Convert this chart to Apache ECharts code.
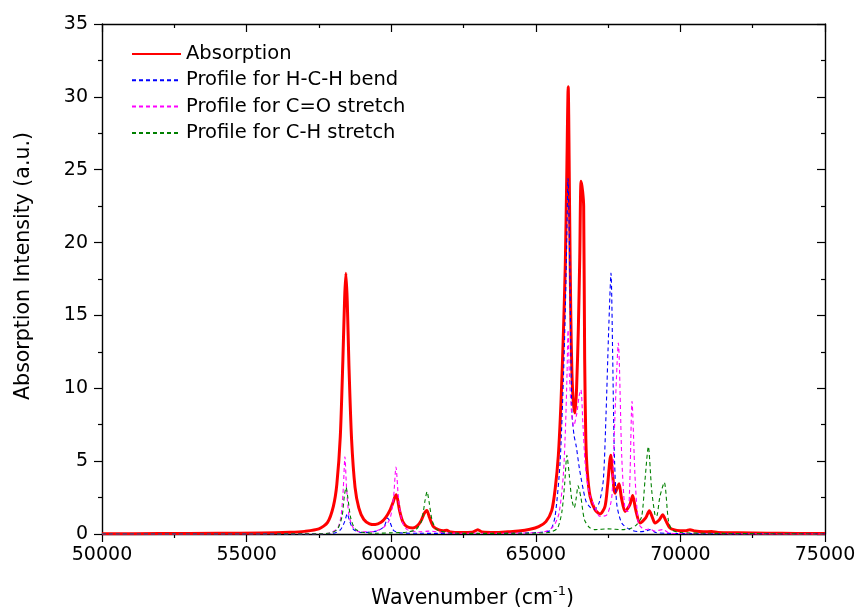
<!DOCTYPE html>
<html>
<head>
<meta charset="utf-8">
<script src="https://cdn.jsdelivr.net/npm/echarts@6/dist/echarts.min.js"></script>
<style>html,body{margin:0;padding:0;background:#fff}#c{width:858px;height:612px}</style>
</head>
<body>
<div id="c"></div>
<script>
const seriesNames = ['Absorption', 'Profile for H-C-H bend', 'Profile for C=O stretch', 'Profile for C-H stretch'];
const xTicks = [50000, 55000, 60000, 65000, 70000, 75000];
const yTicks = [0, 5, 10, 15, 20, 25, 30, 35];

const absX = [50000,52000,54000,55500,56500,57000,57500,57800,58000,58120,58240,58330,58390,58433,58480,58540,58630,58750,58880,59050,59250,59450,59650,59800,59950,60070,60130,60171,60220,60290,60400,60550,60750,60900,61030,61140,61232,61320,61460,61650,61800,61923,62050,62400,62800,62995,63150,63600,64040,64400,64800,65100,65350,65550,65670,65780,65870,65950,66020,66070,66120,66170,66210,66250,66300,66357,66410,66470,66520,66565,66620,66655,66690,66730,66780,66876,67049,67221,67394,67480,67591,67660,67740,67877,67960,68085,68250,68351,68450,68604,68800,68925,69020,69122,69280,69388,69500,69641,69800,69986,70200,70330,70500,70800,71080,71300,72000,73000,74000,75000];
const absY = [0.02,0.03,0.05,0.07,0.12,0.18,0.35,0.8,1.9,3.4,6.7,12,16.2,17.9,16,11.5,6.5,3.2,1.8,1.0,0.7,0.65,0.8,1.1,1.6,2.2,2.55,2.7,2.4,1.6,0.85,0.5,0.42,0.55,0.9,1.4,1.62,1.15,0.5,0.28,0.22,0.25,0.14,0.1,0.12,0.3,0.13,0.1,0.15,0.2,0.32,0.5,0.85,1.6,3.1,5.4,9,13.5,18.5,24.5,30.7,22,15,11,9,8.3,10,14,19,24.2,23.5,22.5,12,6.5,4.3,2.6,1.67,1.37,1.9,3.3,5.4,4.0,2.8,3.45,2.5,1.55,2.0,2.65,1.7,0.75,1.1,1.6,1.2,0.75,1.0,1.32,0.9,0.41,0.28,0.23,0.22,0.3,0.2,0.15,0.17,0.1,0.08,0.05,0.04,0.03];

const bendX = [50000,57000,58000,58250,58400,58480,58560,58700,59000,59500,59750,59880,59960,60080,60300,61000,63000,64500,65200,65500,65666,65839,65953,66010,66060,66115,66170,66210,66250,66320,66400,66507,66645,66745,66900,67040,67200,67335,67430,67520,67600,67660,67710,67797,67971,68258,68600,68800,68950,69150,69500,70000,72000,75000];
const bendY = [0,0.01,0.05,0.3,0.9,1.4,0.9,0.3,0.1,0.2,0.5,1.1,0.8,0.25,0.08,0.05,0.03,0.06,0.12,0.25,1.2,4.9,10.6,14.5,19,24.4,19,13,8.3,6.8,6.0,4.5,3.0,2.2,1.8,1.7,2.2,3.7,8.3,14,17.9,12,6,2.1,0.75,0.3,0.15,0.2,0.3,0.1,0.05,0.03,0.01,0];

const coX = [50000,57500,57900,58150,58270,58345,58400,58455,58540,58680,58900,59300,59700,59950,60080,60165,60250,60370,60550,61000,61300,62000,64000,65300,65600,65800,65950,66030,66080,66115,66160,66230,66310,66420,66500,66560,66630,66700,66770,66880,67030,67221,67450,67580,67640,67740,67854,67972,68085,68189,68250,68327,68431,68545,68662,68800,68950,69100,69390,69600,70000,72000,75000];
const coY = [0,0.01,0.08,0.4,1.3,3.2,5.3,3.2,1.3,0.45,0.15,0.15,0.4,1.0,2.5,4.6,2.5,0.9,0.3,0.15,0.2,0.06,0.05,0.15,0.5,1.4,4.0,7.5,11,14,11,8.5,7.4,8.3,9.5,9.9,7.5,5.0,3.7,2.6,1.9,1.2,1.3,2.0,2.8,8.3,13.1,5.3,1.67,1.55,3.5,9.1,3.95,0.75,0.43,0.3,0.35,0.2,0.3,0.08,0.03,0.01,0];

const chX = [50000,57500,57950,58150,58300,58380,58440,58500,58600,58750,59000,59500,60000,60500,60850,61050,61170,61240,61310,61420,61580,62000,63000,65000,65500,65750,65900,66000,66075,66160,66240,66330,66400,66461,66560,66680,66850,67050,67500,68000,68300,68490,68662,68776,68891,69007,69122,69174,69295,69443,69581,69699,70000,71000,73000,75000];
const chY = [0,0.01,0.1,0.35,1.2,2.6,3.2,2.5,1.1,0.35,0.12,0.05,0.08,0.12,0.3,0.9,2.3,2.9,2.2,0.9,0.3,0.08,0.04,0.06,0.12,0.4,1.5,3.5,5.4,4.0,2.4,1.8,2.5,3.3,2.5,1.0,0.45,0.3,0.35,0.3,0.4,0.64,1.2,3.7,6.0,3.0,1.3,1.2,2.6,3.54,0.98,0.3,0.1,0.05,0.02,0];

const zip = (xs, ys) => xs.map((x, i) => [x, ys[i]]);
const FONT = 'DejaVu Sans';
const black = '#000';

const chart = echarts.init(document.getElementById('c'), null, {renderer: 'canvas'});

function xAxisCfg(pos) {
  const bottom = pos === 'bottom';
  return {
    type: 'value', position: pos, min: xTicks[0], max: xTicks[xTicks.length - 1],
    interval: xTicks[1] - xTicks[0],
    axisLine: {show: true, onZero: false, lineStyle: {color: black, width: 1.4}},
    axisTick: {show: true, inside: !bottom, length: 8, lineStyle: {color: black, width: 1.2}},
    minorTick: {show: true, splitNumber: 2, length: 4, lineStyle: {color: black, width: 1.2}},
    splitLine: {show: false}, minorSplitLine: {show: false},
    axisLabel: {show: bottom, formatter: v => String(v), fontSize: 19, fontFamily: FONT, color: black, margin: 12},
    name: bottom ? '{a|Wavenumber (cm}{s|-1}{a|)}' : '',
    nameLocation: 'middle', nameGap: 51,
    nameTextStyle: {
      padding: [0, 0, 0, 18],
      rich: {
        a: {fontSize: 20.5, fontFamily: FONT, color: black, verticalAlign: 'bottom', lineHeight: 24},
        s: {fontSize: 13, fontFamily: FONT, color: black, verticalAlign: 'top', lineHeight: 24, padding: [0, 0, 12, 0]}
      }
    }
  };
}
function yAxisCfg(pos) {
  const left = pos === 'left';
  return {
    type: 'value', position: pos, min: yTicks[0], max: yTicks[yTicks.length - 1],
    interval: yTicks[1] - yTicks[0],
    axisLine: {show: true, onZero: false, lineStyle: {color: black, width: 1.4}},
    axisTick: {show: true, inside: !left, length: 8, lineStyle: {color: black, width: 1.2}},
    minorTick: {show: true, splitNumber: 2, length: 4, lineStyle: {color: black, width: 1.2}},
    splitLine: {show: false}, minorSplitLine: {show: false},
    axisLabel: {show: left, fontSize: 19, fontFamily: FONT, color: black, margin: 14},
    name: left ? 'Absorption Intensity (a.u.)' : '',
    nameLocation: 'middle', nameGap: 68,
    nameTextStyle: {fontSize: 20.5, fontFamily: FONT, color: black, padding: [0, 0, 0, 26]}
  };
}

const colors = ['#ff0000', '#0000ff', '#ff00ff', '#008000'];
const datasets = [zip(absX, absY), zip(bendX, bendY), zip(coX, coY), zip(chX, chY)];

chart.setOption({
  animation: false,
  backgroundColor: '#fff',
  grid: {left: 102, right: 33, top: 24, bottom: 78, containLabel: false, outerBoundsMode: 'none'},
  xAxis: [xAxisCfg('bottom'), xAxisCfg('top')],
  yAxis: [yAxisCfg('left'), yAxisCfg('right')],
  legend: {
    data: seriesNames, orient: 'vertical', left: 131, top: 44, padding: 0,
    itemWidth: 49, itemHeight: 14, itemGap: 6.3,
    itemStyle: {color: 'rgba(0,0,0,0)', borderWidth: 0, opacity: 0},
    textStyle: {fontSize: 19.5, fontFamily: FONT, color: black, lineHeight: 20}
  },
  series: seriesNames.map((name, i) => ({
    name, type: 'line', xAxisIndex: 0, yAxisIndex: 0,
    data: datasets[i], symbol: 'none', showSymbol: false, smooth: 0.25,
    lineStyle: i === 0 ? {color: colors[i], width: 3, join: 'round'} : {color: colors[i], width: 1.1, type: [4, 3]},
    itemStyle: {color: colors[i]}
  }))
});
</script>
</body>
</html>
